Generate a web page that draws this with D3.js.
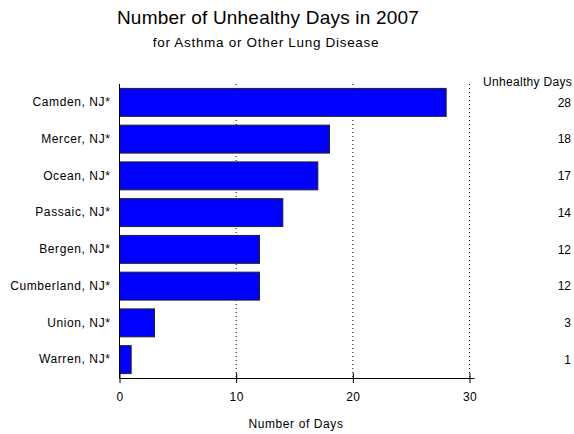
<!DOCTYPE html>
<html>
<head>
<meta charset="utf-8">
<script src="https://cdn.jsdelivr.net/npm/d3@7"></script>
<style>
  body { margin: 0; background: #fff; }
  text { font-family: "Liberation Sans", Arial, sans-serif; fill: #000; }
</style>
</head>
<body>
<svg id="chart" width="574" height="434"></svg>
<script>
const counties = ["Camden, NJ*", "Mercer, NJ*", "Ocean, NJ*", "Passaic, NJ*",
  "Bergen, NJ*", "Cumberland, NJ*", "Union, NJ*", "Warren, NJ*"];
const days = [28, 18, 17, 14, 12, 12, 3, 1];
const xTicks = [0, 10, 20, 30];

const svg = d3.select("#chart");
const plotLeft = 119.5, plotRight = 469.5, plotTop = 84, plotBottom = 378;

const x = d3.scaleLinear().domain([0, 30]).range([plotLeft, plotRight]);
const y = d3.scaleBand().domain(counties).range([plotTop, plotBottom]).paddingInner(0.24).paddingOuter(0.12);

// titles
svg.append("text").attr("x", 268).attr("y", 24).attr("text-anchor", "middle")
  .style("font-size", "19px").style("letter-spacing", "0.2px").text("Number of Unhealthy Days in 2007");
svg.append("text").attr("x", 266).attr("y", 47).attr("text-anchor", "middle")
  .style("font-size", "13.5px").style("letter-spacing", "0.7px").text("for Asthma or Other Lung Disease");

// dotted grid
svg.append("g").selectAll("line").data(xTicks.slice(1)).join("line")
  .attr("x1", d => x(d)).attr("x2", d => x(d))
  .attr("y1", plotTop).attr("y2", plotBottom)
  .attr("stroke", "#000").attr("stroke-width", 1).attr("stroke-dasharray", "1,3");

// bars
svg.append("g").selectAll("rect").data(counties).join("rect")
  .attr("x", x(0)).attr("y", d => y(d))
  .attr("width", (d, i) => x(days[i]) - x(0))
  .attr("height", y.bandwidth())
  .attr("fill", "#0000ff").attr("stroke", "#222").attr("stroke-width", 1);

// x axis
const xAxis = d3.axisBottom(x).tickValues(xTicks).tickSize(5).tickSizeOuter(0);
const gx = svg.append("g").attr("transform", `translate(0,${plotBottom})`).call(xAxis);
gx.select(".domain").attr("d", `M${plotLeft},0.5H${plotRight + 5}`).attr("stroke", "#000");
gx.selectAll(".tick line").attr("y1", -5).attr("y2", 5);
gx.selectAll(".tick text").attr("y", 14).style("font-size", "12px")
  .style("font-family", "Liberation Sans, Arial, sans-serif").style("letter-spacing", "0.4px");

// y axis
const yAxis = d3.axisLeft(y).tickSize(0).tickPadding(9);
const gy = svg.append("g").attr("transform", `translate(${plotLeft},0)`).call(yAxis);
gy.select(".domain").attr("d", `M0,${plotTop}V${plotBottom}`).attr("stroke", "#000");
gy.selectAll(".tick text").style("font-size", "12px")
  .style("font-family", "Liberation Sans, Arial, sans-serif").style("letter-spacing", "0.6px");

svg.append("text").attr("x", 296).attr("y", 428).attr("text-anchor", "middle")
  .style("font-size", "12px").style("letter-spacing", "0.6px").text("Number of Days");

// right value column
svg.append("text").attr("x", 572).attr("y", 86).attr("text-anchor", "end")
  .style("font-size", "12px").style("letter-spacing", "0.3px").text("Unhealthy Days");
svg.append("g").selectAll("text").data(counties).join("text")
  .attr("x", 571).attr("y", d => y(d) + y.bandwidth() / 2)
  .attr("dy", "0.35em").attr("text-anchor", "end")
  .style("font-size", "12px").text((d, i) => days[i]);
</script>
</body>
</html>
